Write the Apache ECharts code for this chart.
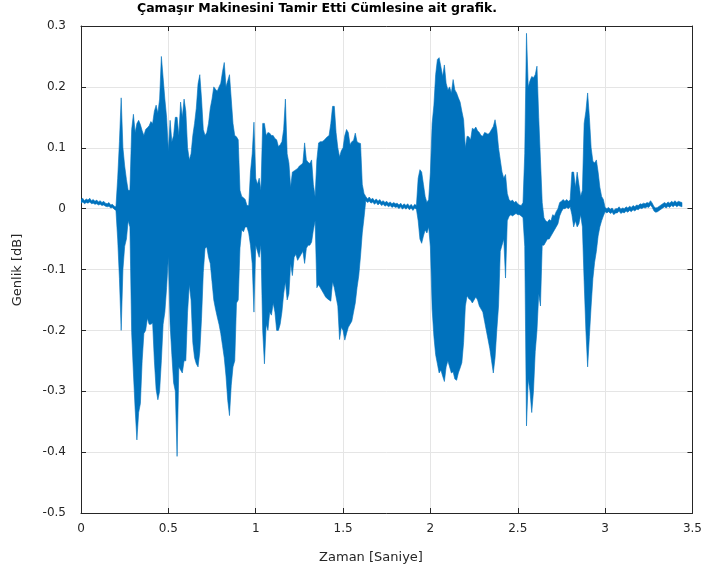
<!DOCTYPE html>
<html><head><meta charset="utf-8">
<script src="https://cdn.jsdelivr.net/npm/echarts@6/dist/echarts.min.js"></script>
<style>html,body{margin:0;padding:0;background:#fff}#c{width:705px;height:573px}</style>
</head><body><div id="c"></div>
<script>
// Envelope of the waveform, every 0.01 s (t = 0 .. 3.44 s)
const timeStep = 0.01;
const upperEnvelope = [
0.015,0.017,0.013,0.016,0.014,0.017,0.013,0.015,0.012,0.014,0.011,0.013,0.010,0.012,0.009,0.008,0.010,0.006,0.007,0.004,0.003,
0.05,0.11,0.182,0.10,0.07,0.048,0.03,0.03,
0.13,0.155,0.125,0.14,0.145,0.138,0.128,0.12,0.13,0.133,0.136,0.143,0.14,0.16,0.17,0.157,
0.18,0.25,0.215,0.18,0.15,0.095,0.145,0.11,0.12,0.15,0.15,0.12,0.175,0.15,
0.18,0.16,0.10,0.08,0.09,0.12,0.14,0.165,0.205,0.22,0.18,0.13,0.12,0.125,0.14,0.165,0.18,0.2,0.196,0.193,0.2,0.206,0.225,0.24,0.2,0.21,0.22,0.18,0.14,0.12,0.118,0.113,0.03,0.02,0.018,0.015,0.005,0.005,0.06,0.09,0.142,0.05,0.04,0.05,0.03,0.14,0.14,0.12,0.125,0.124,0.12,0.12,0.115,0.113,0.102,0.105,
0.11,0.13,0.18,0.09,0.075,0.035,0.06,0.062,0.064,0.066,0.07,0.072,0.075,0.108,0.08,0.076,0.074,0.08,0.04,0.02,0.08,0.108,0.11,0.11,0.112,0.115,0.118,0.12,0.14,0.168,0.168,0.125,0.1,0.085,0.095,0.1,0.12,0.13,0.125,0.105,0.11,0.112,0.124,0.11,0.108,0.107,0.04,0.025,
0.020,0.016,0.019,0.015,0.017,0.013,0.016,0.012,0.015,0.011,0.013,0.010,0.012,0.009,0.011,0.008,0.010,0.008,0.009,0.006,0.009,0.005,0.008,0.005,0.008,0.004,0.007,0.003,0.007,0.005,
0.05,0.064,0.06,0.04,0.02,0.01,0.015,
0.06,0.14,0.17,0.22,0.245,0.248,0.233,0.217,0.236,0.206,0.195,0.2,0.19,0.212,0.195,0.19,0.182,0.175,0.16,0.146,0.1,0.119,0.118,0.113,0.132,0.13,0.134,0.128,
0.125,0.12,0.119,0.125,0.124,0.122,0.125,0.13,0.135,0.146,0.13,0.1,0.08,0.06,0.05,0.056,0.025,0.015,0.012,0.014,0.01,0.012,0.008,0.006,0.005,0.01,0.09,0.288,0.2,0.21,0.217,0.215,0.22,0.234,0.15,0.08,0.01,
-0.015,-0.02,-0.022,-0.018,-0.02,-0.01,-0.012,-0.005,0.0,0.01,0.012,0.015,0.012,0.015,0.012,0.014,0.06,0.06,0.035,
0.06,0.04,0.02,0.03,0.14,0.16,0.19,0.15,0.1,0.078,0.075,0.08,0.06,0.035,0.02,0.015,
0.002,0.0,0.002,-0.001,0.001,-0.003,0.0,0.0,0.003,-0.001,0.001,0.0,0.003,0.001,0.004,0.002,0.005,0.003,0.006,0.005,0.008,0.007,0.009,0.008,0.010,0.009,0.013,0.009,0.003,0.001,0.002,0.004,0.006,0.008,0.010,0.008,0.011,0.009,0.012,0.010,0.013,0.010,0.012,0.011,0.010
];
const lowerEnvelope = [
0.009,0.011,0.008,0.010,0.009,0.011,0.008,0.009,0.007,0.008,0.006,0.007,0.005,0.006,0.004,0.003,0.004,0.001,0.002,-0.001,-0.003,
-0.05,-0.115,-0.2,-0.1,-0.062,-0.05,-0.02,-0.03,
-0.204,-0.27,-0.33,-0.38,-0.335,-0.32,-0.25,-0.205,-0.2,-0.18,-0.19,-0.19,-0.188,-0.25,-0.297,-0.314,
-0.30,-0.25,-0.19,-0.17,-0.13,-0.08,-0.19,-0.24,-0.286,-0.30,-0.407,-0.26,-0.265,-0.27,
-0.25,-0.25,-0.17,-0.125,-0.15,-0.22,-0.245,-0.255,-0.26,-0.235,-0.18,-0.105,-0.065,-0.063,-0.08,-0.09,-0.12,-0.15,-0.165,-0.178,-0.19,-0.205,-0.225,-0.245,-0.275,-0.315,-0.34,-0.29,-0.26,-0.25,-0.155,-0.15,-0.065,-0.035,-0.038,-0.03,-0.03,-0.04,-0.06,-0.09,-0.17,-0.06,-0.07,-0.08,-0.06,-0.2,-0.255,-0.19,-0.2,-0.17,-0.175,-0.155,-0.17,-0.2,-0.2,-0.19,
-0.17,-0.14,-0.12,-0.15,-0.14,-0.09,-0.11,-0.08,-0.075,-0.085,-0.08,-0.075,-0.07,-0.09,-0.065,-0.06,-0.06,-0.055,-0.035,-0.02,-0.13,-0.125,-0.13,-0.135,-0.14,-0.145,-0.148,-0.15,-0.152,-0.12,-0.13,-0.145,-0.16,-0.215,-0.195,-0.2,-0.216,-0.205,-0.195,-0.19,-0.185,-0.17,-0.155,-0.13,-0.11,-0.078,-0.04,-0.015,
0.013,0.010,0.012,0.009,0.011,0.007,0.010,0.006,0.009,0.005,0.007,0.004,0.006,0.003,0.005,0.002,0.004,0.002,0.003,0.0,0.003,-0.001,0.002,-0.001,0.002,-0.002,0.001,-0.003,0.001,-0.001,
-0.02,-0.05,-0.057,-0.045,-0.035,-0.04,-0.03,
-0.063,-0.165,-0.21,-0.24,-0.255,-0.27,-0.265,-0.275,-0.284,-0.26,-0.25,-0.26,-0.27,-0.268,-0.28,-0.282,-0.27,-0.262,-0.253,-0.22,-0.16,-0.143,-0.148,-0.15,-0.155,-0.15,-0.145,-0.15,
-0.16,-0.165,-0.17,-0.185,-0.2,-0.215,-0.23,-0.25,-0.27,-0.245,-0.2,-0.16,-0.07,-0.06,-0.05,-0.114,-0.02,-0.013,-0.01,-0.012,-0.01,-0.008,-0.01,-0.01,-0.012,-0.015,-0.062,-0.357,-0.28,-0.3,-0.335,-0.3,-0.235,-0.2,-0.14,-0.16,-0.06,
-0.06,-0.055,-0.05,-0.05,-0.045,-0.04,-0.035,-0.03,-0.025,-0.012,-0.005,0.0,0.0,0.002,0.0,0.003,-0.01,-0.03,-0.02,
-0.03,-0.025,-0.01,-0.03,-0.12,-0.2,-0.26,-0.21,-0.16,-0.115,-0.088,-0.07,-0.045,-0.03,-0.02,-0.012,
-0.005,-0.007,-0.005,-0.008,-0.006,-0.010,-0.007,-0.007,-0.004,-0.008,-0.006,-0.007,-0.004,-0.006,-0.003,-0.005,-0.002,-0.004,-0.001,-0.002,0.001,0.0,0.002,0.001,0.003,0.002,0.006,0.002,-0.004,-0.006,-0.005,-0.003,-0.001,0.001,0.003,0.001,0.004,0.002,0.005,0.003,0.006,0.003,0.005,0.004,0.003
];
const xTicks = [0, 0.5, 1, 1.5, 2, 2.5, 3, 3.5];
const yTicks = [-0.5, -0.4, -0.3, -0.2, -0.1, 0, 0.1, 0.2, 0.3];
const titleText = 'Çamaşır Makinesini Tamir Etti Cümlesine ait grafik.';
const xLabel = 'Zaman [Saniye]';
const yLabel = 'Genlik [dB]';

// rows: time, upper, lower  (time only indexes the read samples)
const envelopeRows = upperEnvelope.map((u, i) => [i * timeStep, u, lowerEnvelope[i]]);

const fmt = v => (Math.abs(v) < 1e-9 ? '0' : String(Math.round(v * 10) / 10));
const FONT = 'DejaVu Sans';
const axisCol = '#262626';
const gridCol = '#e5e5e5';
const waveCol = '#0072BD';

function renderWave(params, api) {
  const up = [], lo = [];
  for (let i = 0; i < envelopeRows.length; i++) {
    const r = envelopeRows[i];
    up.push(api.coord([r[0], r[1]]));
    lo.push(api.coord([r[0], r[2]]));
  }
  const pts = up.concat(lo.reverse());
  return {
    type: 'polygon',
    shape: {points: pts},
    style: {fill: waveCol, stroke: waveCol, lineWidth: 0.6, lineJoin: 'miter'}
  };
}

const chart = echarts.init(document.getElementById('c'), null, {renderer: 'canvas'});
const baseX = {
  type: 'value', min: xTicks[0], max: xTicks[xTicks.length - 1], interval: 0.5,
  axisLine: {show: true, onZero: false, lineStyle: {color: axisCol, width: 1}},
  axisTick: {show: true, inside: true, length: 5, lineStyle: {color: axisCol}},
  splitLine: {show: false}
};
const baseY = {
  type: 'value', min: yTicks[0], max: yTicks[yTicks.length - 1], interval: 0.1,
  axisLine: {show: true, onZero: false, lineStyle: {color: axisCol, width: 1}},
  axisTick: {show: true, inside: true, length: 5, lineStyle: {color: axisCol}},
  splitLine: {show: false}
};
chart.setOption({
  animation: false,
  backgroundColor: '#ffffff',
  title: {
    text: titleText, left: 132, top: -3,
    textStyle: {fontFamily: FONT, fontSize: 12.5, fontWeight: 'bold', color: '#000'}
  },
  grid: {left: 81, right: 8, top: 26, bottom: 60},
  xAxis: [
    Object.assign({}, baseX, {
      position: 'bottom',
      splitLine: {show: true, lineStyle: {color: gridCol, width: 1}},
      axisLabel: {show: true, margin: 10, fontFamily: FONT, fontSize: 12, color: axisCol, formatter: fmt}
    }),
    Object.assign({}, baseX, {position: 'top', axisLabel: {show: false}})
  ],
  yAxis: [
    Object.assign({}, baseY, {
      position: 'left',
      splitLine: {show: true, lineStyle: {color: gridCol, width: 1}},
      axisLabel: {show: true, margin: 15, fontFamily: FONT, fontSize: 12, color: axisCol, formatter: fmt}
    }),
    Object.assign({}, baseY, {position: 'right', axisLabel: {show: false}})
  ],
  graphic: [
    {type: 'text', x: 371, y: 558,
     style: {text: xLabel, font: '13px "' + FONT + '"', fill: axisCol, textAlign: 'center', textVerticalAlign: 'middle'}},
    {type: 'text', x: 18, y: 270, rotation: Math.PI / 2,
     style: {text: yLabel, font: '13px "' + FONT + '"', fill: axisCol, textAlign: 'center', textVerticalAlign: 'middle'}}
  ],
  series: [{
    type: 'custom', xAxisIndex: 0, yAxisIndex: 0, clip: true,
    data: [[0, 0]],
    renderItem: renderWave,
    z: 3
  }]
});
</script></body></html>
